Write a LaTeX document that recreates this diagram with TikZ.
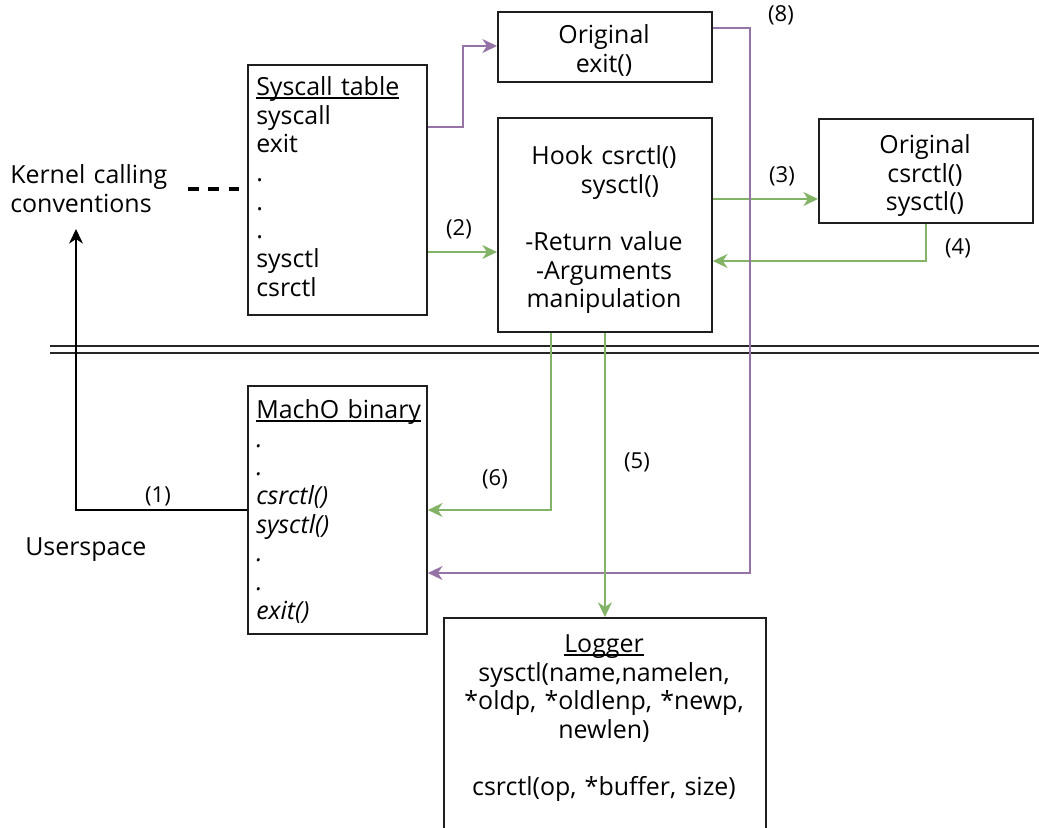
\documentclass[tikz,border=0pt]{standalone}
\usepackage{fontspec}
\setmainfont{Open Sans}
\usetikzlibrary{arrows.meta,calc}
\definecolor{pur}{HTML}{9673A6}
\definecolor{grn}{HTML}{82B366}
\newcommand\ulx[1]{\sbox0{#1}\rlap{\rule[-2.4pt]{\wd0}{1pt}}\usebox0}
\tikzset{
  bx/.style 2 args={draw=black!88, line width=1.4pt, anchor=north west, inner sep=0pt,
    minimum width=#1*0.75pt, minimum height=#2*0.75pt},
  txt/.style={inner sep=0pt, font=\fontsize{18.7}{21.5}\selectfont},
  lbl/.style={inner sep=0pt, font=\fontsize{16.5}{19}\selectfont},
  tip/.style={-{Stealth[length=11pt,width=10.5pt,inset=3.5pt]}},
  parrow/.style={draw=pur, line width=1.15pt, tip},
  garrow/.style={draw=grn, line width=1.15pt, tip},
  barrow/.style={draw=black, line width=1.3pt, tip},
  dashline/.style={draw=black, line width=2.3pt, dash pattern=on 8.2pt off 7pt},
  sepline/.style={draw=black!85, line width=1.4pt}
}
\begin{document}
\begin{tikzpicture}[x=0.75pt,y=-0.75pt]
\useasboundingbox (0,0) rectangle (1039,828);
\clip (0,0) rectangle (1039,828);
% boxes
\node[bx={179}{250}] (st) at (247,64) {};
\node[bx={214}{70}] (ex) at (497,11) {};
\node[bx={214}{214}] (hk) at (497,117) {};
\node[bx={214}{104}] (oc) at (818,118) {};
\node[bx={179}{248}] (mo) at (247,385) {};
\node[bx={322}{240}] (lg) at (443,617) {};
% texts
\node[txt, anchor=north west, text width=170*0.75pt, align=left] (stt) at (256,75)
  {\strut\ulx{Syscall table}\\syscall\\exit\\.\\.\\.\\sysctl\\csrctl};
\node[txt, anchor=north, text width=200*0.75pt, align=center] (ext) at (604,23)
  {\strut Original\\exit()};
\node[txt, anchor=north, text width=210*0.75pt, align=center] (hkt) at (604,144)
  {\strut Hook csrctl()\\\hspace*{24pt}sysctl()\\\strut\\-Return value\\-Arguments\\manipulation};
\node[txt, anchor=north, text width=210*0.75pt, align=center] (oct) at (925,133)
  {\strut Original\\csrctl()\\sysctl()};
\node[txt, anchor=north west, text width=200*0.75pt, align=left] (kcc) at (10,163)
  {\strut Kernel calling\\conventions};
\node[txt, anchor=north west, text width=200*0.75pt, align=left] (usr) at (25,535)
  {\strut Userspace};
\node[txt, anchor=north west, text width=170*0.75pt, align=left] (mot) at (256,398)
  {\strut\ulx{MachO binary}\\\itshape .\\\itshape .\\\itshape csrctl()\\\itshape sysctl()\\\itshape .\\\itshape .\\\itshape exit()};
\node[txt, anchor=north, text width=320*0.75pt, align=center] (lgt) at (604,632)
  {\strut\ulx{Logger}\\sysctl(name,namelen,\\\relax *oldp, *oldlenp, *newp,\\newlen)\\\strut\\csrctl(op, *buffer, size)};
% labels
\node[lbl] (l1) at (158,496) {(1)};
\node[lbl] (l2) at (459,229) {(2)};
\node[lbl] (l3) at (782,176) {(3)};
\node[lbl] (l4) at (958,248) {(4)};
\node[lbl] (l5) at (637,462) {(5)};
\node[lbl] (l6) at (495,479) {(6)};
\node[lbl] (l8) at (781,15) {(8)};
% separator
\draw[sepline] (50,346) -- (1039,346);
\draw[sepline] (50,353) -- (1039,353);
% connectors
\coordinate (k1) at (76,229);
\coordinate (d0) at (188,189);
\draw[dashline] (d0) -- (st.west |- d0);
\draw[parrow] (st.east |- 0,127) -- ++(35,0) |- (ex.west |- 0,46);
\draw[garrow] (st.east |- 0,252) -- (hk.west |- 0,252);
\draw[garrow] (hk.east |- 0,199) -- (oc.west |- 0,199);
\draw[garrow] (oc.south) |- (hk.east |- 0,261);
\draw[parrow] (ex.east |- 0,28) -- ++(37,0) |- (mo.east |- 0,573);
\draw[garrow] (hk.south -| 551,0) |- (mo.east |- 0,510);
\draw[garrow] (hk.south) -- (lg.north);
\draw[barrow] (mo.west |- 0,510) -| (k1);
\end{tikzpicture}
\end{document}
